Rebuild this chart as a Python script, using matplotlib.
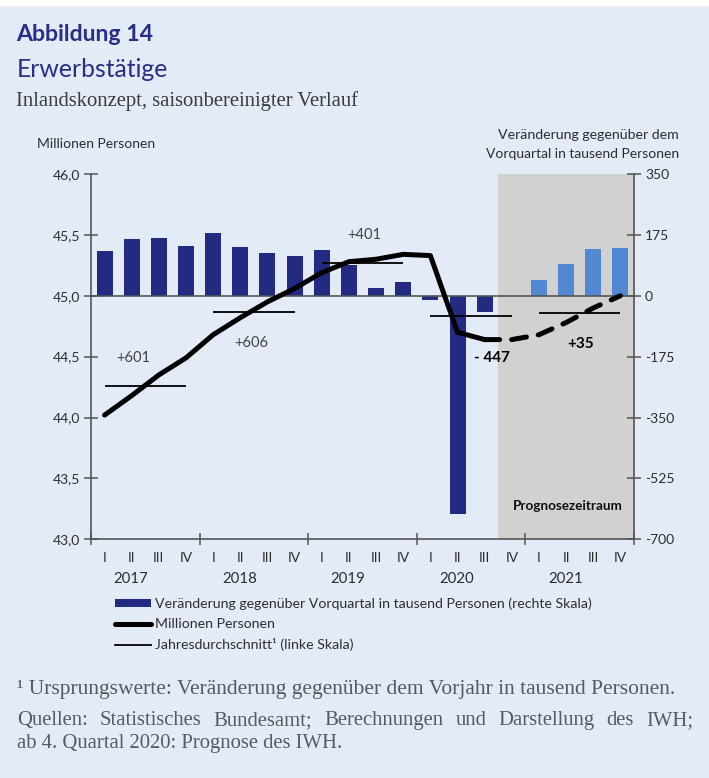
import matplotlib
matplotlib.use('Agg')
import matplotlib.pyplot as plt
from matplotlib.patches import Patch, Rectangle
from matplotlib.lines import Line2D
import matplotlib.transforms as mtransforms
import numpy as np

# ---------------- data ----------------
quarter_labels = ['I', 'II', 'III', 'IV'] * 5
years = ['2017', '2018', '2019', '2020', '2021']
change_thousands = [129, 162, 166, 143, 181, 139, 124, 114, 132, 87, 21, 39,
                    -12, -627, -48, 0, 45, 91, 134, 137]
employed_millions = [44.02, 44.18, 44.35, 44.49, 44.68, 44.82, 44.95, 45.06,
                     45.19, 45.28, 45.30, 45.34, 45.33, 44.70, 44.64, 44.64,
                     44.68, 44.78, 44.90, 45.00]
annual_avg_millions = [44.26, 44.87, 45.27, 44.83, 44.86]
annual_change_labels = ['+601', '+606', '+401', '- 447', '+35']
left_ticks = [43.0, 43.5, 44.0, 44.5, 45.0, 45.5, 46.0]
left_ticklabels = ['43,0', '43,5', '44,0', '44,5', '45,0', '45,5', '46,0']
right_ticks = [-700, -525, -350, -175, 0, 175, 350]
right_ticklabels = ['-700', '-525', '-350', '-175', '0', '175', '350']
forecast_start = 15  # 2020 Q4

# ---------------- style ----------------
W, H = 709, 778
BG = '#e3ebf7'
NAVY = '#232a82'
LIGHT = '#5287d2'
SHADE = '#d1d1d1'
AXC = '#555555'
TXT = '#2e2e2e'
SANS = ['Lato', 'DejaVu Sans']
SERIF = ['Liberation Serif', 'DejaVu Serif']
plt.rcParams['font.family'] = SANS

fig = plt.figure(figsize=(W / 100, H / 100), dpi=100)
fig.patch.set_facecolor(BG)
fig.add_artist(Rectangle((0, 1 - 5 / H), 1, 5 / H, transform=fig.transFigure,
                         color='white', zorder=0))

def fx(px):
    return px / W

def fy(py):
    return 1 - py / H

ax_l, ax_r, ax_t, ax_b = 91, 634, 174, 539.3
ax = fig.add_axes([fx(ax_l), fy(ax_b), (ax_r - ax_l) / W, (ax_b - ax_t) / H])
ax2 = ax.twinx()
ax.set_zorder(2)
ax2.set_zorder(1)
ax.patch.set_visible(False)
ax2.patch.set_visible(False)

n = len(change_thousands)
x = np.arange(n)

# shaded forecast period
ax2.axvspan(forecast_start - 0.5, n - 0.5, color=SHADE, lw=0, zorder=0)

# bars (right scale)
colors = [NAVY if i < forecast_start else LIGHT for i in range(n)]
ax2.bar(x, change_thousands, width=0.59, color=colors, zorder=2)
ax2.axhline(0, color=AXC, lw=1.2, zorder=3)
ax2.set_ylim(-700, 350)
ax2.set_yticks(right_ticks)
ax2.set_yticklabels(right_ticklabels)

# lines (left scale)
ax.set_ylim(43, 46)
ax.set_xlim(-0.5, n - 0.5)
ax.plot(x[:forecast_start], employed_millions[:forecast_start], color='black',
        lw=3.6, solid_capstyle='round', solid_joinstyle='round', zorder=5)
ax.plot(x[forecast_start - 1:], employed_millions[forecast_start - 1:],
        color='black', lw=3.6, ls=(0, (3.0, 2.4)), dash_capstyle='round',
        zorder=5)
for k, avg in enumerate(annual_avg_millions):
    ax.hlines(avg, 4 * k, 4 * k + 3, color='black', lw=1.3, zorder=4)

# annual change labels
lab_pos = [(1.05, 44.49), (5.41, 44.61), (9.57, 45.50), (14.27, 44.49), (17.53, 44.60)]
for k, (lab, (lx, ly)) in enumerate(zip(annual_change_labels, lab_pos)):
    bold = k >= 3
    ax.text(lx, ly, lab, ha='center', va='center', fontsize=11 if bold else 10.5,
            color='black' if bold else '#444444',
            fontweight='bold' if bold else 'normal', zorder=6)
ax.text(17.05, 43.27, 'Prognosezeitraum', ha='center', va='center', fontsize=9.7,
        fontweight='bold', color='#111111', zorder=6)

ax.set_yticks(left_ticks)
ax.set_yticklabels(left_ticklabels)

# spines
for a in (ax, ax2):
    a.spines['top'].set_visible(False)
    for s in a.spines.values():
        s.set_color(AXC)
        s.set_linewidth(1.2)
ax.spines['right'].set_visible(False)
ax2.spines['left'].set_visible(False)
ax2.spines['bottom'].set_visible(False)

ax.tick_params(axis='y', direction='inout', length=10, width=1.1, color=AXC,
               pad=3, labelsize=10, labelcolor=TXT)
ax2.tick_params(axis='y', direction='inout', length=10, width=1.1, color=AXC,
                pad=3, labelsize=10, labelcolor=TXT)

# x axis: year boundaries as major ticks, quarters as minor labels
ax.set_xticks(np.arange(-0.5, n, 4))
ax.set_xticklabels([''] * len(np.arange(-0.5, n, 4)))
ax.set_xticks(x, minor=True)
ax.set_xticklabels(quarter_labels, minor=True)
ax.tick_params(axis='x', which='major', direction='inout', length=9, width=1.1,
               color=AXC)
ax.tick_params(axis='x', which='minor', length=0, pad=9, labelsize=10,
               labelcolor=TXT)
trans = mtransforms.blended_transform_factory(ax.transData, ax.transAxes)
for k, yr in enumerate(years):
    ax.text(4 * k + 0.97, (ax_b - 579) / (ax_b - ax_t), yr, transform=trans,
            ha='center', va='center', fontsize=10.8, color=TXT)

# ---------------- texts ----------------
renderer = fig.canvas.get_renderer()

def fit(t, target_w):
    w = t.get_window_extent(renderer).width
    t.set_fontsize(t.get_fontsize() * target_w / w)
    return t

fit(fig.text(fx(16), fy(40.7), 'Abbildung 14', fontsize=14, fontweight='bold',
             color='#2a2d84', va='baseline'), 138)
fit(fig.text(fx(17), fy(77.3), 'Erwerbstätige', fontsize=16, color='#2a2d84',
             va='baseline'), 152)
fit(fig.text(fx(16), fy(106), 'Inlandskonzept, saisonbereinigter Verlauf',
             fontsize=12.5, family=SERIF, color='#3a3a3a', va='baseline'), 344)
fit(fig.text(fx(37), fy(148), 'Millionen Personen', fontsize=9.5, color=TXT,
             va='baseline'), 118)
fit(fig.text(fx(679), fy(139), 'Veränderung gegenüber dem', fontsize=9.5,
             color=TXT, va='baseline', ha='right'), 182)
fit(fig.text(fx(679), fy(158), 'Vorquartal in tausend Personen', fontsize=9.5,
             color=TXT, va='baseline', ha='right'), 194)

# legend
handles = [Patch(facecolor=NAVY, edgecolor='none'),
           Line2D([], [], color='black', lw=3.6, solid_capstyle='round'),
           Line2D([], [], color='black', lw=1.3)]
labels = ['Veränderung gegenüber Vorquartal in tausend Personen (rechte Skala)',
          'Millionen Personen',
          'Jahresdurchschnitt\u00b9 (linke Skala)']
fig.legend(handles, labels, loc='upper left', bbox_to_anchor=(fx(115), fy(597.5)),
           frameon=False, fontsize=10.2, handlelength=2.55, handletextpad=0.28,
           handleheight=0.5, labelspacing=0.58, borderpad=0, borderaxespad=0,
           labelcolor=TXT)

# footnotes
FOOT = '#555a63'
fit(fig.text(fx(17), fy(694), '\u00b9 Ursprungswerte: Veränderung gegenüber dem Vorjahr in tausend Personen.',
             fontsize=14, family=SERIF, color=FOOT, va='baseline'), 663)

def justified(text, x0, x1, ybase, size):
    words = text.split()
    ts = [fig.text(0, fy(ybase), w_, fontsize=size, family=SERIF, color=FOOT,
                   va='baseline') for w_ in words]
    widths = [t.get_window_extent(renderer).width for t in ts]
    gap = (x1 - x0 - sum(widths)) / (len(words) - 1)
    pos = x0
    for t, w_ in zip(ts, widths):
        t.set_x(fx(pos))
        pos += w_ + gap

t3 = fit(fig.text(fx(17), fy(748), 'ab 4. Quartal 2020: Prognose des IWH.',
                  fontsize=14, family=SERIF, color=FOOT, va='baseline'), 327)
justified('Quellen: Statistisches Bundesamt; Berechnungen und Darstellung des IWH;',
          17, 693, 725, t3.get_fontsize())

fig.savefig('out.png', dpi=100, facecolor=fig.get_facecolor())
